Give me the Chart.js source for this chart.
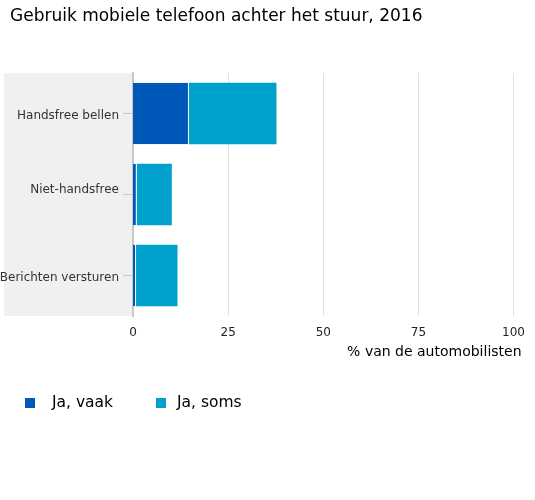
<!DOCTYPE html>
<html>
<head>
<meta charset="utf-8">
<script src="https://cdn.jsdelivr.net/npm/chart.js@4"></script>
<style>
  body { margin: 0; background: #ffffff; }
  #wrap { width: 535px; height: 500px; }
</style>
</head>
<body>
<div id="wrap"><canvas id="chart" width="535" height="500"></canvas></div>
<script>
// Data
const categories = ['Handsfree bellen', ['Niet-handsfree', ''], 'Berichten versturen'];
const jaVaak = [14.7, 1.0, 0.8];
const jaSoms = [23.0, 9.2, 10.9];
const xTicks = [0, 25, 50, 75, 100];

const chartTitle = 'Gebruik mobiele telefoon achter het stuur, 2016';
const xTitle = '% van de automobilisten';

const FONT = "'DejaVu Sans', Verdana, sans-serif";

// legend box positions and gap to the text
const legendBoxX = [25, 156];
const legendTextGap = [27, 21];

const extras = {
    id: 'extras',
    beforeDraw(chart) {
        // grey band behind the category labels
        const { ctx, chartArea } = chart;
        ctx.save();
        ctx.fillStyle = '#f0f0f0';
        ctx.fillRect(4, chartArea.top, chartArea.left - 4, chartArea.bottom - chartArea.top);
        ctx.restore();
    },
    afterDraw(chart) {
        const { ctx, chartArea } = chart;
        ctx.save();
        ctx.textBaseline = 'middle';
        ctx.fillStyle = '#000000';

        // chart title
        ctx.font = '17px ' + FONT;
        ctx.textAlign = 'left';
        ctx.fillText(chartTitle, 10, 17);

        // x axis title, right aligned with the last tick label
        ctx.font = '14px ' + FONT;
        ctx.textAlign = 'right';
        ctx.fillText(xTitle, chartArea.right + 8, 352);

        // legend
        ctx.font = '15.5px ' + FONT;
        ctx.textAlign = 'left';
        chart.data.datasets.forEach((ds, i) => {
            const x = legendBoxX[i];
            ctx.fillStyle = ds.backgroundColor;
            ctx.fillRect(x, 398, 10, 10);
            ctx.fillStyle = '#000000';
            ctx.fillText(ds.label, x + legendTextGap[i], 403);
        });
        ctx.restore();
    }
};

new Chart(document.getElementById('chart'), {
    type: 'bar',
    data: {
        labels: categories,
        datasets: [{
            label: 'Ja, vaak',
            data: jaVaak,
            backgroundColor: '#0058b8',
            borderColor: '#ffffff',
            borderWidth: { top: 0, bottom: 0, left: 0, right: 1 },
            borderSkipped: false,
            barPercentage: 0.76,
            categoryPercentage: 1
        }, {
            label: 'Ja, soms',
            data: jaSoms,
            backgroundColor: '#00a1cd',
            borderWidth: 0,
            barPercentage: 0.76,
            categoryPercentage: 1
        }]
    },
    options: {
        indexAxis: 'y',
        responsive: false,
        animation: false,
        layout: {
            padding: { left: 0, top: 73, right: 18, bottom: 154 }
        },
        plugins: {
            legend: { display: false },
            tooltip: { enabled: false },
            title: { display: false }
        },
        scales: {
            x: {
                stacked: true,
                min: 0,
                max: 100,
                afterBuildTicks: scale => {
                    scale.ticks = xTicks.map(v => ({ value: v }));
                },
                afterFit: scale => { scale.height = 30; },
                border: { display: false },
                grid: {
                    color: '#e0e0e0',
                    lineWidth: ctx => ctx.tick && ctx.tick.value === 0 ? 0 : 1,
                    drawTicks: false
                },
                ticks: {
                    color: '#222222',
                    padding: 10,
                    font: { family: FONT, size: 12 }
                }
            },
            y: {
                stacked: true,
                afterFit: scale => { scale.width = 133; },
                border: { display: true, color: '#c8c8c8', width: 2 },
                grid: {
                    offset: false,
                    drawOnChartArea: false,
                    drawTicks: true,
                    tickLength: 10,
                    tickColor: '#c8c8c8'
                },
                ticks: {
                    color: '#333333',
                    padding: 4,
                    labelOffset: 2.5,
                    font: { family: FONT, size: 12 }
                }
            }
        }
    },
    plugins: [extras]
});
</script>
</body>
</html>
